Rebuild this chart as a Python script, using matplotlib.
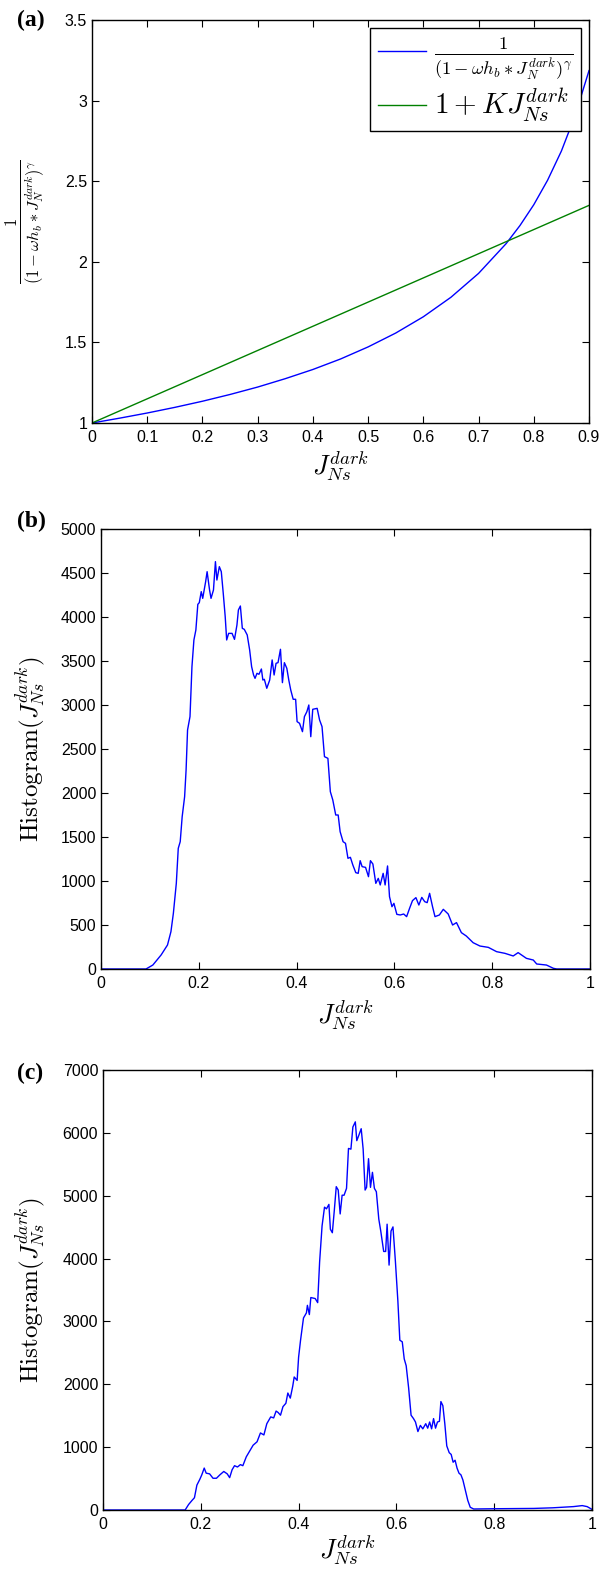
import matplotlib
matplotlib.use("Agg")
import matplotlib.pyplot as plt
from matplotlib.ticker import FixedLocator

plt.rcParams['mathtext.fontset'] = 'cm'
plt.rcParams['font.family'] = ['Liberation Sans', 'DejaVu Sans']

# panel (a): curves
j_a = [0.0, 0.05, 0.1, 0.15, 0.2, 0.25, 0.3, 0.35, 0.4, 0.45, 0.5, 0.55, 0.6,
       0.65, 0.7, 0.75, 0.775, 0.8, 0.825, 0.85, 0.875, 0.9]
frac_a = [1.0, 1.030, 1.062, 1.097, 1.135, 1.177, 1.223, 1.275, 1.332, 1.397,
          1.472, 1.558, 1.659, 1.780, 1.928, 2.113, 2.225, 2.354, 2.506, 2.687,
          2.909, 3.186]
lin_x = [0.0, 0.9]
lin_y = [1.0, 2.35]

# panel (b): histogram
j_b = [0.0, 0.092, 0.106, 0.123, 0.136, 0.143, 0.148, 0.154, 0.158, 0.162, 0.166,
       0.171, 0.174, 0.177, 0.182, 0.186, 0.190, 0.194, 0.198, 0.201, 0.205, 0.208,
       0.214, 0.217, 0.222, 0.225, 0.230, 0.234, 0.237, 0.242, 0.246, 0.250, 0.254,
       0.257, 0.261, 0.268, 0.273, 0.278, 0.281, 0.285, 0.289, 0.293, 0.299, 0.304,
       0.308, 0.312, 0.315, 0.319, 0.323, 0.328, 0.331, 0.334, 0.339, 0.345, 0.350,
       0.354, 0.358, 0.362, 0.367, 0.371, 0.375, 0.380, 0.384, 0.388, 0.393, 0.398,
       0.401, 0.406, 0.412, 0.416, 0.421, 0.425, 0.429, 0.433, 0.442, 0.447, 0.452,
       0.457, 0.464, 0.469, 0.474, 0.480, 0.485, 0.489, 0.495, 0.500, 0.505, 0.510,
       0.515, 0.521, 0.526, 0.530, 0.534, 0.541, 0.547, 0.551, 0.556, 0.562, 0.567,
       0.571, 0.577, 0.581, 0.586, 0.590, 0.595, 0.599, 0.605, 0.612, 0.619, 0.625,
       0.631, 0.637, 0.644, 0.650, 0.656, 0.662, 0.667, 0.672, 0.678, 0.683, 0.692,
       0.700, 0.710, 0.719, 0.727, 0.737, 0.747, 0.761, 0.775, 0.792, 0.809, 0.826,
       0.843, 0.853, 0.870, 0.884, 0.891, 0.911, 0.925, 0.932, 1.0]
hist_b = [0, 0, 45, 160, 273, 424, 633, 973, 1371, 1447, 1731,
          1958, 2261, 2716, 2868, 3436, 3739, 3852, 4144, 4163, 4288, 4212,
          4402, 4515, 4307, 4212, 4307, 4629, 4420, 4572, 4515, 4269, 4004,
          3739, 3814, 3814, 3746, 3909, 4080, 4125, 3871, 3860, 3796, 3625,
          3436, 3341, 3303, 3360, 3349, 3409, 3284, 3292, 3190, 3284, 3512,
          3341, 3474, 3481, 3633, 3254, 3481, 3417, 3284, 3171, 3065, 3065,
          2811, 2792, 2697, 2868, 2924, 3000, 2640, 2951, 2962, 2830, 2754,
          2413, 2394, 2015, 1921, 1750, 1750, 1561, 1447, 1428, 1258, 1269,
          1182, 1095, 1087, 1231, 1163, 1155, 1049, 1231, 1193, 973, 1030,
          955, 1087, 955, 1171, 822, 708, 746, 621, 614, 625, 595,
          689, 777, 811, 727, 814, 765, 754, 860, 708, 595, 614,
          678, 625, 500, 527, 413, 375, 299, 261, 246, 197, 178,
          148, 186, 121, 102, 57, 45, 8, 0, 0]

# panel (c): histogram
j_c = [0.0, 0.168, 0.175, 0.182, 0.187, 0.192, 0.198, 0.202, 0.207, 0.211, 0.218,
       0.225, 0.232, 0.239, 0.247, 0.254, 0.259, 0.264, 0.269, 0.275, 0.281, 0.286,
       0.293, 0.300, 0.307, 0.315, 0.322, 0.329, 0.335, 0.343, 0.349, 0.354, 0.358,
       0.363, 0.368, 0.374, 0.378, 0.383, 0.388, 0.391, 0.397, 0.400, 0.404, 0.410,
       0.416, 0.418, 0.422, 0.425, 0.434, 0.439, 0.443, 0.448, 0.453, 0.457, 0.462,
       0.465, 0.469, 0.473, 0.477, 0.481, 0.485, 0.489, 0.493, 0.498, 0.502, 0.507,
       0.511, 0.516, 0.519, 0.523, 0.528, 0.532, 0.536, 0.539, 0.543, 0.547, 0.551,
       0.555, 0.559, 0.564, 0.568, 0.574, 0.578, 0.581, 0.585, 0.589, 0.593, 0.598,
       0.603, 0.607, 0.612, 0.616, 0.620, 0.625, 0.630, 0.635, 0.639, 0.644, 0.649,
       0.654, 0.660, 0.664, 0.668, 0.672, 0.676, 0.680, 0.684, 0.688, 0.691, 0.695,
       0.699, 0.703, 0.708, 0.712, 0.716, 0.720, 0.724, 0.728, 0.732, 0.736, 0.741,
       0.746, 0.751, 0.758, 0.80, 0.85, 0.881, 0.92, 0.962, 0.980, 0.990, 1.0]
hist_c = [0, 0, 87, 152, 195, 396, 488, 559, 667, 586, 575,
          505, 505, 559, 613, 575, 515, 640, 705, 684, 722, 705,
          846, 939, 1031, 1085, 1226, 1194, 1373, 1481, 1465, 1574, 1552,
          1508, 1644, 1698, 1861, 1780, 1970, 2116, 2062, 2431, 2702, 3055,
          3136, 3256, 3109, 3380, 3364, 3299, 3950, 4520, 4818, 4791, 4862,
          4466, 4411, 4764, 5144, 5090, 4710, 5008, 5008, 5117, 5752, 5741,
          6093, 6175, 5876, 5958, 6066, 5741, 5090, 5133, 5589, 5133, 5372,
          5117, 5063, 4628, 4438, 4113, 4113, 4547, 3896, 4438, 4504, 3950,
          3326, 2702, 2675, 2404, 2295, 1943, 1508, 1454, 1400, 1248, 1346,
          1291, 1373, 1302, 1400, 1291, 1454, 1302, 1400, 1411, 1725, 1660,
          1373, 1020, 912, 884, 760, 792, 667, 586, 559, 477, 315,
          152, 43, 16, 20, 22, 25, 35, 54, 70, 54, 10]

xt_a = [0, 0.1, 0.2, 0.3, 0.4, 0.5, 0.6, 0.7, 0.8, 0.9]
xt_a_lab = ['0', '0.1', '0.2', '0.3', '0.4', '0.5', '0.6', '0.7', '0.8', '0.9']
yt_a = [1, 1.5, 2, 2.5, 3, 3.5]
yt_a_lab = ['1', '1.5', '2', '2.5', '3', '3.5']
xt_bc = [0, 0.2, 0.4, 0.6, 0.8, 1]
xt_bc_lab = ['0', '0.2', '0.4', '0.6', '0.8', '1']
yt_b = list(range(0, 5001, 500))
yt_c = list(range(0, 7001, 1000))

fig = plt.figure(figsize=(6.0, 15.74), dpi=100)
H = 1574.0

def make_ax(left, top, right, bottom):
    return fig.add_axes([left / 600.0, (H - bottom) / H, (right - left) / 600.0, (bottom - top) / H])

ax_a = make_ax(92, 20, 589, 423)
ax_b = make_ax(101, 529, 590, 969)
ax_c = make_ax(103, 1070, 592, 1510)

def style(ax, xt, xl, yt, yl):
    ax.xaxis.set_major_locator(FixedLocator(xt))
    ax.set_xticklabels(xl)
    ax.yaxis.set_major_locator(FixedLocator(yt))
    ax.set_yticklabels(yl)
    ax.tick_params(direction='in', top=True, right=True, length=5, width=0.8,
                   labelsize=11.5)
    ax.tick_params(axis='x', pad=5)
    ax.tick_params(axis='y', pad=3.5)
    for s in ax.spines.values():
        s.set_linewidth(1.0)
        s.set_color('black')

jlab = r'$J_{Ns}^{dark}$'
frac_lab = r'$\frac{1}{(1-\omega h_b * J_N^{dark})^\gamma}$'

# (a)
ax_a.plot(j_a, frac_a, color='#0000ff', lw=1.0, label=frac_lab)
ax_a.plot(lin_x, lin_y, color='#008000', lw=1.0, label=r'$1+KJ_{Ns}^{dark}$')
ax_a.set_xlim(0, 0.9)
ax_a.set_ylim(1, 3.5)
style(ax_a, xt_a, xt_a_lab, yt_a, yt_a_lab)
ax_a.set_xlabel(jlab, fontsize=19)
ax_a.xaxis.set_label_coords(0.5, -0.062)
ax_a.set_ylabel(frac_lab, fontsize=17)
ax_a.yaxis.set_label_coords(-0.09, 0.5)
leg = ax_a.legend(loc='upper right', bbox_to_anchor=(1.0, 1.0),
                  borderaxespad=0.3, fancybox=False, edgecolor='black', framealpha=1,
                  fontsize=19, handlelength=1.8, borderpad=0.3, labelspacing=0.15,
                  handletextpad=0.3)
leg.get_frame().set_linewidth(1.0)
leg.get_texts()[1].set_fontsize(21)

# (b)
ax_b.plot(j_b, hist_b, color='#0000ff', lw=1.0)
ax_b.set_xlim(0, 1)
ax_b.set_ylim(0, 5000)
style(ax_b, xt_bc, xt_bc_lab, yt_b, [str(v) for v in yt_b])
ax_b.set_xlabel(jlab, fontsize=19)
ax_b.xaxis.set_label_coords(0.5, -0.065)
ax_b.set_ylabel(r'$\mathrm{Histogram}(J_{Ns}^{dark})$', fontsize=18)
ax_b.yaxis.set_label_coords(-0.108, 0.5)

# (c)
ax_c.plot(j_c, hist_c, color='#0000ff', lw=1.0)
ax_c.set_xlim(0, 1)
ax_c.set_ylim(0, 7000)
style(ax_c, xt_bc, xt_bc_lab, yt_c, [str(v) for v in yt_c])
ax_c.set_xlabel(jlab, fontsize=19)
ax_c.xaxis.set_label_coords(0.5, -0.05)
ax_c.set_ylabel(r'$\mathrm{Histogram}(J_{Ns}^{dark})$', fontsize=18)
ax_c.yaxis.set_label_coords(-0.113, 0.5)

# panel letters
for lab, yc in [('(a)', 20), ('(b)', 521), ('(c)', 1073)]:
    fig.text(17 / 600.0, 1 - yc / H, lab, fontsize=17, fontweight='bold',
             family='Liberation Serif', va='center', ha='left')

fig.savefig('out.png', dpi=100)
